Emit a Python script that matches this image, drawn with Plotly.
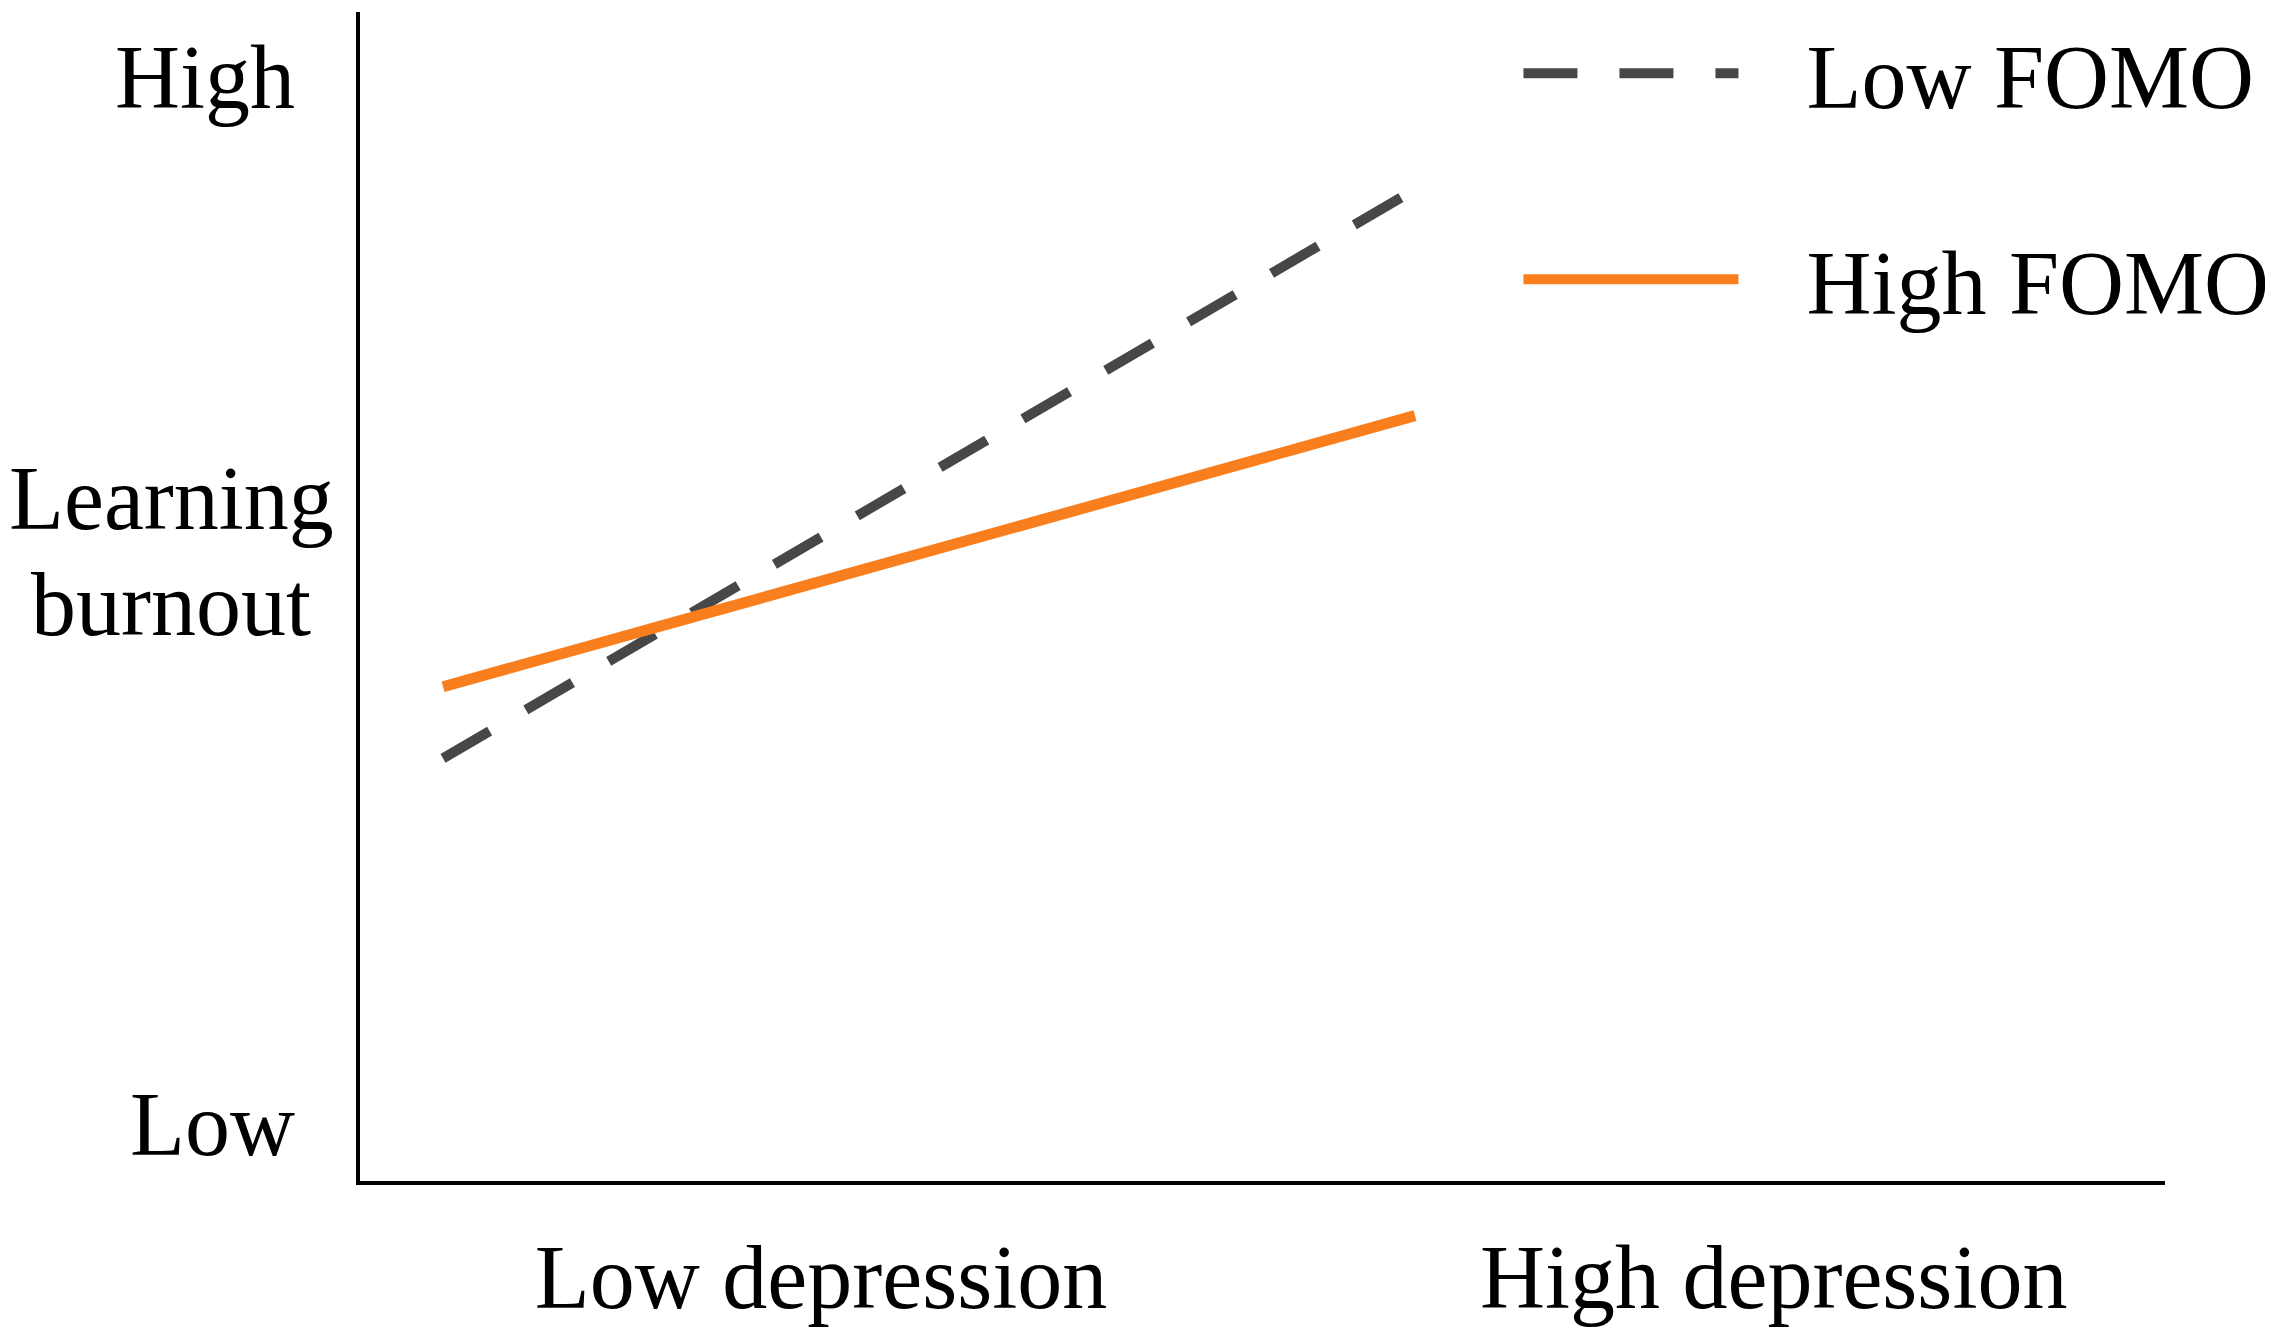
import plotly.graph_objects as go

# Data (simple-slopes style: depression at -1 SD / +1 SD)
depression = [-1, 1]
low_fomo = [0.3615, 0.8483]
high_fomo = [0.4228, 0.6547]

x_tick_vals = [-0.2222, 1.738]
x_tick_text = ["Low depression", "High depression"]
y_tick_vals = [0.049, 0.945]
y_tick_text = ["Low", "High"]

FONT = "Liberation Serif, Times New Roman, serif"
GAP = "\u2002\u2009"

fig = go.Figure()
fig.add_trace(go.Scatter(
    x=depression, y=low_fomo, mode="lines", name=GAP + "Low FOMO",
    legendgroup="a",
    line=dict(color="#474747", width=10, dash="54px,42px"),
))
fig.add_trace(go.Scatter(
    x=depression, y=high_fomo, mode="lines", name=GAP + "High FOMO",
    legendgroup="b",
    line=dict(color="#f97f1e", width=11),
))

fig.update_layout(
    width=2273, height=1333,
    margin=dict(l=352, r=116, t=0, b=160),
    paper_bgcolor="white", plot_bgcolor="white",
    font=dict(family=FONT, size=90, color="black"),
    showlegend=True,
    legend=dict(
        x=0.6418, y=1.0033, xanchor="left", yanchor="top",
        bgcolor="rgba(0,0,0,0)", borderwidth=0,
        itemwidth=215, tracegroupgap=86, traceorder="grouped",
        font=dict(family=FONT, size=90, color="black"),
    ),
    xaxis=dict(
        range=[-1.1708, 2.5432], showgrid=False, zeroline=False,
        showline=True, linecolor="black", linewidth=4,
        tickvals=x_tick_vals, ticktext=x_tick_text, ticks="",
        ticklabelstandoff=15, automargin=False,
        tickfont=dict(family=FONT, size=90, color="black"),
    ),
    yaxis=dict(
        range=[0, 1], showgrid=False, zeroline=False,
        showline=True, linecolor="black", linewidth=4,
        tickvals=y_tick_vals, ticktext=y_tick_text, ticks="",
        ticklabelstandoff=43, automargin=False,
        tickfont=dict(family=FONT, size=90, color="black"),
    ),
    annotations=[
        dict(text="Learning", xref="paper", yref="paper", x=-0.1047, y=0.584,
             xanchor="center", yanchor="middle", showarrow=False,
             font=dict(family=FONT, size=90, color="black")),
        dict(text="burnout", xref="paper", yref="paper", x=-0.1047, y=0.493,
             xanchor="center", yanchor="middle", showarrow=False,
             font=dict(family=FONT, size=90, color="black")),
    ],
)

fig.write_html("out.html")
